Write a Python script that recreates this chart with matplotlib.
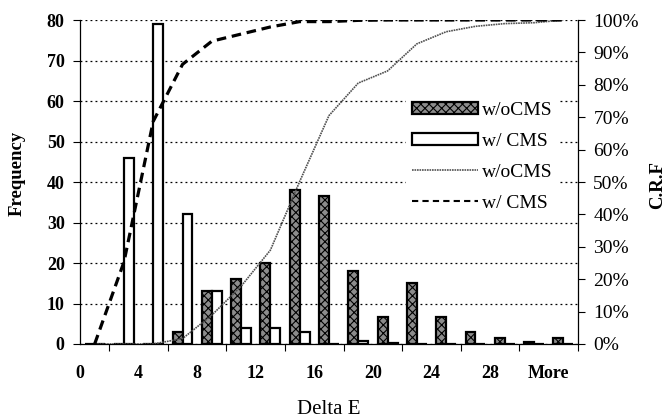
import numpy as np
import matplotlib
matplotlib.use("Agg")
import matplotlib.pyplot as plt
from matplotlib.patches import Patch
from matplotlib.lines import Line2D

plt.rcParams['font.family'] = ['Liberation Serif', 'DejaVu Serif']
plt.rcParams['hatch.linewidth'] = 0.8

categories = ['0', '2', '4', '6', '8', '10', '12', '14', '16', '18', '20',
              '22', '24', '26', '28', '30', 'More']
wo_cms = [0, 0, 0, 3, 13, 16, 20, 38, 36.5, 18, 6.7, 15, 6.7, 3, 1.5, 0.5, 1.5]
w_cms = [0, 46, 79, 32, 13, 4, 4, 3, 0, 0.7, 0.2, 0, 0, 0, 0, 0, 0]
left_ticks = [0, 10, 20, 30, 40, 50, 60, 70, 80]
right_ticks = [0, 10, 20, 30, 40, 50, 60, 70, 80, 90, 100]

wo_crf = np.cumsum(wo_cms) / np.sum(wo_cms) * 100
w_crf = np.cumsum(w_cms) / np.sum(w_cms) * 100

W, H = 670, 419
fig = plt.figure(figsize=(6.7, 4.19), dpi=100)
ax = fig.add_axes([80 / W, 1 - 344 / H, 498 / W, 324 / H])
x = np.arange(len(categories))
bw = 0.34

ax.bar(x - bw / 2, wo_cms, width=bw, facecolor='#8c8c8c', edgecolor='black',
       hatch='xxxx', linewidth=1.6, zorder=3)
ax.bar(x + bw / 2, w_cms, width=bw, facecolor='white', edgecolor='black',
       linewidth=1.6, zorder=3)

ax.set_xlim(-0.5, len(categories) - 0.5)
ax.set_ylim(0, 80)
ax.set_yticks(left_ticks)
ax.set_yticklabels([str(v) for v in left_ticks], fontweight='bold', fontsize=13)
# category labels sit at the category boundaries, as in the reference
ax.set_xticks(x[::2] - 0.5)
ax.set_xticklabels(categories[::2], fontweight='bold', fontsize=13)
ax.set_xticks(np.arange(-0.5, len(categories), 1.0), minor=True)
ax.tick_params(axis='x', which='major', length=0, pad=15)
ax.tick_params(axis='x', which='minor', length=5, direction='out', width=0.8)
ax.tick_params(axis='y', length=5, direction='out', width=0.8, pad=6)
ax.yaxis.grid(True, linestyle=(0, (1.5, 2.5)), color='black', linewidth=0.9, zorder=0)
ax.set_axisbelow(True)
ax.spines['top'].set_visible(False)
ax.spines['right'].set_visible(False)
ax.spines['left'].set_linewidth(0.9)
ax.spines['bottom'].set_linewidth(0.9)

ax2 = ax.twinx()
ax2.set_ylim(0, 100)
ax2.set_yticks(right_ticks)
ax2.set_yticklabels([f'{v}%' for v in right_ticks], fontsize=14)
ax2.tick_params(axis='y', length=5, direction='out', width=0.8, pad=6)
ax2.spines['top'].set_visible(False)
ax2.spines['left'].set_visible(False)
ax2.spines['bottom'].set_visible(False)
ax2.spines['right'].set_linewidth(0.9)
ax2.plot(x, wo_crf, color='#505050', linewidth=1.2, linestyle=(0, (1, 0.5)), zorder=4)
ax2.plot(x, w_crf, color='black', linewidth=2.3, linestyle=(0, (3, 1.8)), zorder=4)

fig.text(17 / W, 1 - 173 / H, 'Frequency', rotation=90, ha='center', va='center',
         fontsize=13.5, fontweight='bold')
fig.text(658 / W, 1 - 185 / H, 'C.R.F', rotation=90, ha='center', va='center',
         fontsize=13.5, fontweight='bold')
fig.text(329 / W, 1 - 409 / H, 'Delta E', ha='center', va='center', fontsize=15)

handles = [
    Patch(facecolor='#8c8c8c', edgecolor='black', hatch='xxxx', linewidth=1.6),
    Patch(facecolor='white', edgecolor='black', linewidth=1.6),
    Line2D([], [], color='#505050', linewidth=1.2, linestyle=(0, (1, 0.5))),
    Line2D([], [], color='black', linewidth=1.5, linestyle=(0, (3, 2))),
]
labels = ['w/oCMS', 'w/ CMS', 'w/oCMS', 'w/ CMS']
leg = fig.legend(handles, labels, loc='upper left', bbox_to_anchor=(406 / W, 1 - 96 / H),
                 frameon=True, fontsize=14, handlelength=3.4, handleheight=0.57,
                 handletextpad=0.2, labelspacing=0.72, borderpad=0.3, borderaxespad=0)
leg.get_frame().set_edgecolor('none')
leg.get_frame().set_facecolor('white')
leg.get_frame().set_alpha(1)
leg.set_zorder(10)

fig.savefig('out.png', dpi=100)
